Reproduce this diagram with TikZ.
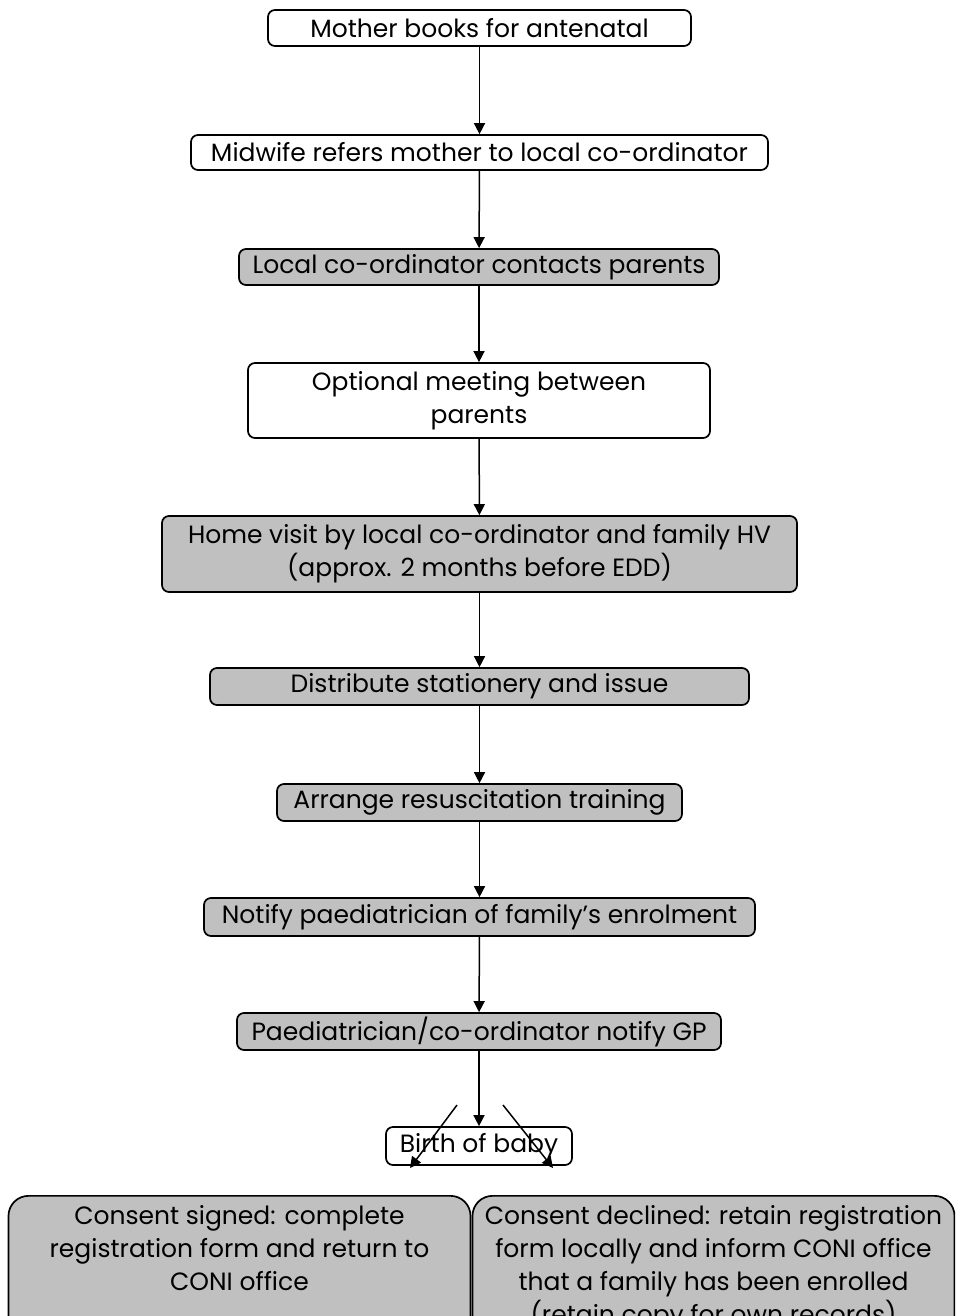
\documentclass[tikz,border=0pt]{standalone}
\usepackage{fontspec}
\setmainfont{Poppins}
\usepackage{tikz}
\usetikzlibrary{arrows.meta}

\definecolor{boxgrey}{RGB}{192,192,192}
\tikzset{
  stepwhite/.style={draw, line width=1.7pt, rounded corners=7pt, fill=white,
    align=center, inner sep=0pt, font=\fontsize{25}{33}\selectfont},
  stepgrey/.style={stepwhite, fill=boxgrey},
  endgrey/.style={stepgrey, rounded corners=20pt, anchor=north},
  flow/.style={line width=1.5pt, -{Triangle[length=11pt,width=11pt]}}
}

\begin{document}
\begin{tikzpicture}[x=1pt,y=-1pt]
\clip (0,0) rectangle (955,1316);
\fill[white] (0,0) rectangle (955,1316);
\node[stepwhite, minimum width=423pt, minimum height=36pt] (mother) at (479.5,28) {Mother books for antenatal};
\node[stepwhite, minimum width=577pt, minimum height=35pt] (midwife) at (479.5,152.5) {Midwife refers mother to local co-ordinator};
\node[stepgrey, minimum width=480pt, minimum height=36pt] (contact) at (479,267) {Local co-ordinator contacts parents};
\node[stepwhite, minimum width=462pt, minimum height=75pt] (meeting) at (479,400.5) {Optional meeting between\\parents};
\node[stepgrey, minimum width=635pt, minimum height=76pt] (visit) at (479.5,554) {Home visit by local co-ordinator and family HV\\(approx. 2 months before EDD)};
\node[stepgrey, minimum width=539pt, minimum height=37pt] (stationery) at (479.5,686.5) {Distribute stationery and issue};
\node[stepgrey, minimum width=405pt, minimum height=37pt] (training) at (479.5,802.5) {Arrange resuscitation training};
\node[stepgrey, minimum width=551pt, minimum height=38pt] (notify) at (479.5,917) {Notify paediatrician of family's enrolment};
\node[stepgrey, minimum width=484pt, minimum height=37pt] (gp) at (479,1031.5) {Paediatrician/co-ordinator notify GP};
\node[stepwhite, minimum width=186pt, minimum height=38pt] (birth) at (479,1146) {Birth of baby};
\node[endgrey] (signed) at (239.5,1195) {\parbox[t][160pt][t]{462pt}{\vspace*{6pt}\centering\strut Consent signed: complete\\registration form and return to\\CONI office}};
\node[endgrey] (declined) at (713.5,1195) {\parbox[t][160pt][t]{482pt}{\vspace*{6pt}\centering\strut Consent declined: retain registration\\form locally and inform CONI office\\that a family has been enrolled\\(retain copy for own records)}};
\draw[flow] (mother) -- (midwife);
\draw[flow] (midwife) -- (contact);
\draw[flow] (contact) -- (meeting);
\draw[flow] (meeting) -- (visit);
\draw[flow] (visit) -- (stationery);
\draw[flow] (stationery) -- (training);
\draw[flow] (training) -- (notify);
\draw[flow] (notify) -- (gp);
\draw[flow] (gp) -- (birth);
\coordinate (forkL) at (457,1105);
\coordinate (forkR) at (503,1105);
\coordinate (tipL) at (410,1168);
\coordinate (tipR) at (553,1168);
\draw[flow] (forkL) -- (tipL);
\draw[flow] (forkR) -- (tipR);
\end{tikzpicture}
\end{document}
